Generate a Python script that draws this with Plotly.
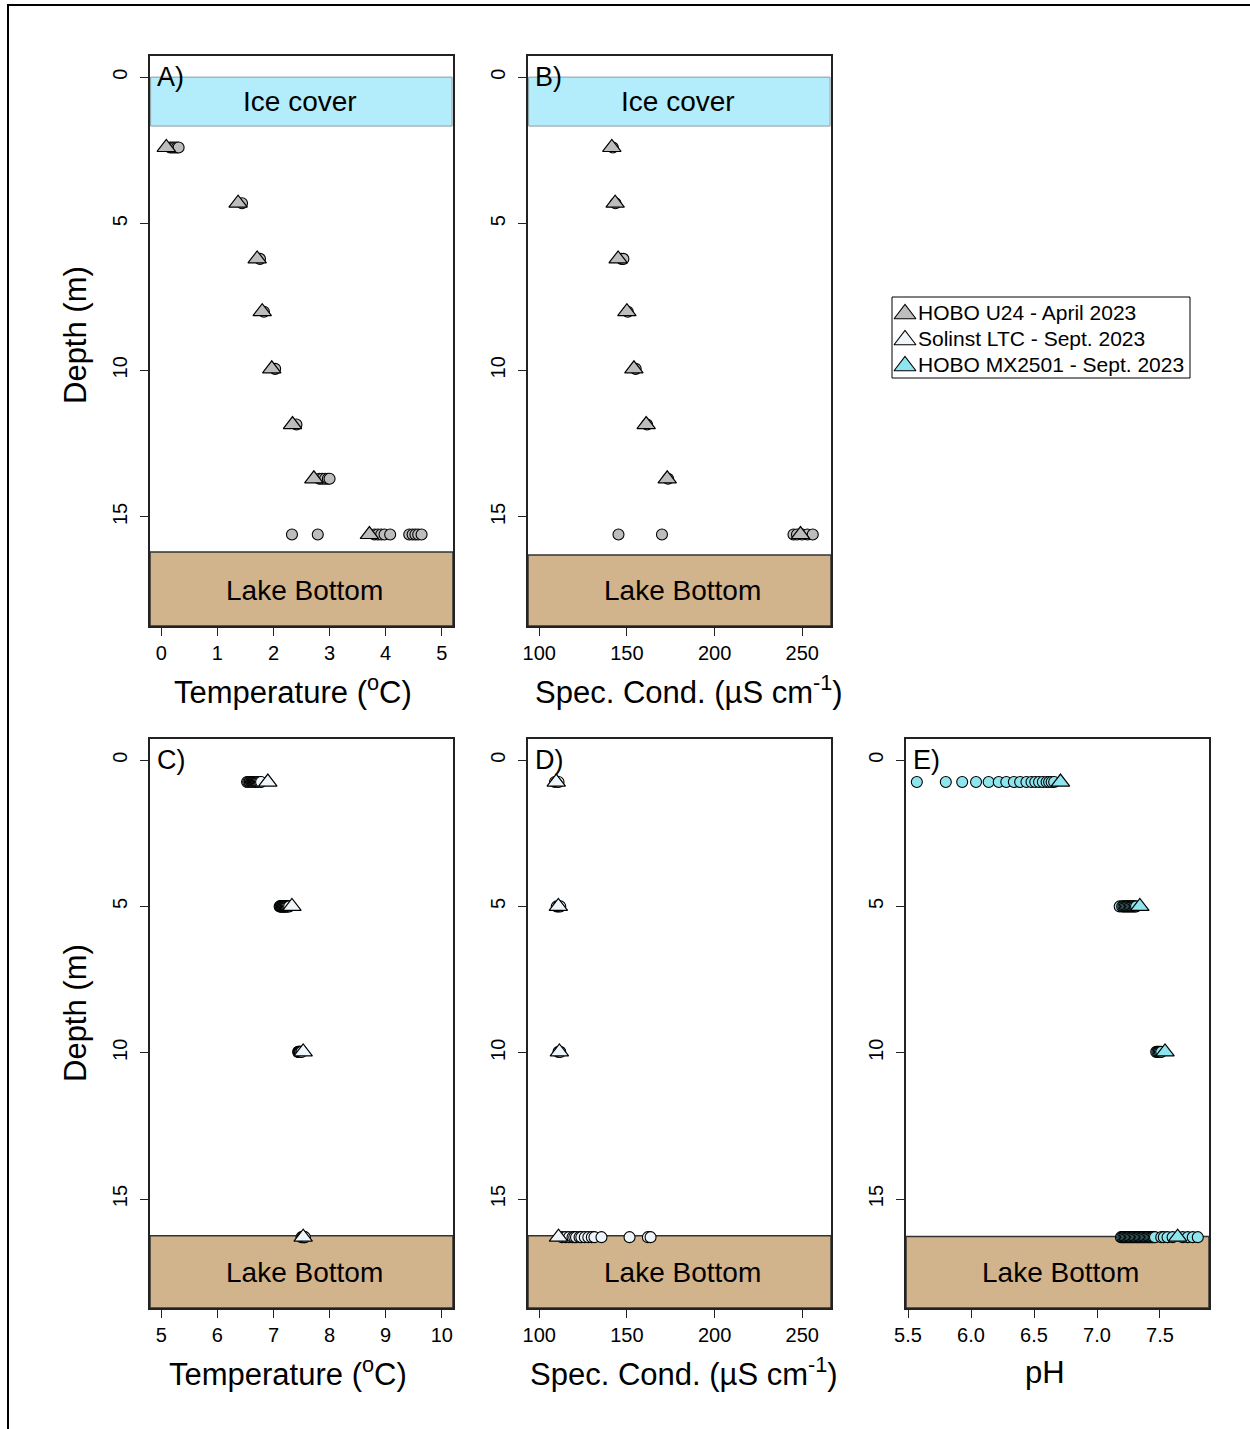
import plotly.graph_objects as go

# ---------------- data ----------------
# April 2023 (HOBO U24), under ice
apr_depths = [2.4, 4.3, 6.2, 8.0, 9.95, 11.85, 13.7, 15.6]
apr_temp_tri = [0.09, 1.37, 1.71, 1.80, 1.97, 2.34, 2.72, 3.71]
apr_temp_logs = [
    [0.16, 0.20, 0.24, 0.28, 0.31],
    [1.44],
    [1.76],
    [1.83],
    [2.03],
    [2.41],
    [2.82, 2.87, 2.92, 2.97, 3.00],
    [2.33, 2.79, 3.80, 3.86, 3.92, 3.98, 4.08, 4.42, 4.48, 4.53, 4.58, 4.64],
]
apr_cond_tri = [141.4, 143.3, 145.0, 150.0, 154.0, 161.0, 173.0, 249.0]
apr_cond_logs = [
    [142.0],
    [143.5],
    [147.0, 148.0],
    [150.5],
    [155.0],
    [161.5],
    [173.5],
    [145.2, 170.0, 245.0, 247.0, 250.0, 253.0, 256.0],
]

# September 2023 (Solinst LTC: temperature, spec. cond.; HOBO MX2501: pH)
sep_depths = [0.75, 5.0, 9.97, 16.3]
sep_temp_tri = [6.90, 7.33, 7.53, 7.53]
sep_temp_logs = [
    [6.53, 6.55, 6.57, 6.58, 6.60, 6.61, 6.62, 6.63, 6.64, 6.65, 6.66, 6.67,
     6.68, 6.69, 6.70, 6.71, 6.72, 6.74, 6.76, 6.78],
    [7.11, 7.12, 7.13, 7.14, 7.15, 7.16, 7.17, 7.18, 7.19, 7.20, 7.21, 7.22,
     7.23, 7.24, 7.26, 7.28],
    [7.44, 7.45, 7.46, 7.47, 7.48, 7.50],
    [7.50, 7.52, 7.54, 7.55, 7.56],
]
sep_cond_tri = [109.7, 110.9, 111.5, 111.0]
sep_cond_logs = [
    [109.0, 110.0, 111.0],
    [110.0, 111.0, 112.0],
    [111.0, 112.0],
    [113.0, 115.0, 117.0, 119.0, 120.0, 121.0, 123.0, 124.0, 126.0, 128.0,
     130.0, 131.5, 135.5, 151.5, 162.0, 163.5],
]
sep_ph_tri = [6.71, 7.34, 7.54, 7.64]
sep_ph_logs = [
    [5.57, 5.80, 5.93, 6.04, 6.14, 6.22, 6.28, 6.34, 6.39, 6.44, 6.48, 6.51,
     6.54, 6.57, 6.60, 6.62, 6.64, 6.66],
    [7.18, 7.20, 7.21, 7.22, 7.23, 7.24, 7.25, 7.26, 7.27, 7.28, 7.29, 7.30, 7.31],
    [7.47, 7.48, 7.49, 7.50, 7.51],
    [7.19, 7.20, 7.21, 7.22, 7.23, 7.24, 7.25, 7.26, 7.27, 7.28, 7.29, 7.30,
     7.31, 7.32, 7.33, 7.34, 7.35, 7.36, 7.37, 7.38, 7.39, 7.40, 7.41, 7.42,
     7.43, 7.44, 7.45, 7.46, 7.51, 7.53, 7.56, 7.60, 7.68, 7.72, 7.76, 7.80],
]

legend_names = ["HOBO U24 - April 2023", "Solinst LTC - Sept. 2023",
                "HOBO MX2501 - Sept. 2023"]
panel_labels = ["A)", "B)", "C)", "D)", "E)"]
temp_ticks_apr = [0, 1, 2, 3, 4, 5]
temp_ticks_sep = [5, 6, 7, 8, 9, 10]
cond_ticks = [100, 150, 200, 250]
ph_ticks = [5.5, 6.0, 6.5, 7.0, 7.5]
ph_ticktext = ["5.5", "6.0", "6.5", "7.0", "7.5"]
depth_ticks = [0, 5, 10, 15]
ice_bottom = 1.67

# ---------------- styling ----------------
W, H = 1250, 1429
FONT = "Liberation Sans, Arial, Helvetica, sans-serif"
GREY = "#BDBDBD"
ALICE = "#EEF6FC"
CYAN = "#8EE5EE"
ICE = "#B3ECFA"
TAN = "#D2B48C"
YRANGE = [18.72, -0.72]
legend_colors = [GREY, ALICE, CYAN]


def fx(p):
    return p / W


def fy(p):
    return 1 - p / H


panels = [
    dict(k="", xpx=(150, 453), ypx=(56, 626), xr=[-0.2, 5.2], tv=temp_ticks_apr,
         depths=apr_depths, tri=apr_temp_tri, logs=apr_temp_logs, col=GREY,
         ice=True, bottom=16.2, title="Temperature (<sup>o</sup>C)", tx=293),
    dict(k="2", xpx=(528, 831), ypx=(56, 626), xr=[93.6, 266.4], tv=cond_ticks,
         depths=apr_depths, tri=apr_cond_tri, logs=apr_cond_logs, col=GREY,
         ice=True, bottom=16.3, title="Spec. Cond. (µS cm<sup>-1</sup>)", tx=689),
    dict(k="3", xpx=(150, 453), ypx=(739, 1308), xr=[4.8, 10.2], tv=temp_ticks_sep,
         depths=sep_depths, tri=sep_temp_tri, logs=sep_temp_logs, col=ALICE,
         ice=False, bottom=16.25, title="Temperature (<sup>o</sup>C)", tx=288),
    dict(k="4", xpx=(528, 831), ypx=(739, 1308), xr=[93.6, 266.4], tv=cond_ticks,
         depths=sep_depths, tri=sep_cond_tri, logs=sep_cond_logs, col=ALICE,
         ice=False, bottom=16.25, title="Spec. Cond. (µS cm<sup>-1</sup>)", tx=684),
    dict(k="5", xpx=(906, 1209), ypx=(739, 1308), xr=[5.484, 7.889], tv=ph_ticks,
         ttext=ph_ticktext, depths=sep_depths, tri=sep_ph_tri, logs=sep_ph_logs,
         col=CYAN, ice=False, bottom=16.28, title="pH", tx=1045),
]

fig = go.Figure()
shapes = []
annotations = []
layout = {}

for i, p in enumerate(panels):
    k = p["k"]
    xa = "x" + k
    ya = "y" + k
    cx = [v for vals in p["logs"] for v in vals]
    cy = [d for d, vals in zip(p["depths"], p["logs"]) for _ in vals]
    fig.add_trace(go.Scatter(
        x=cx, y=cy, mode="markers", xaxis=xa, yaxis=ya, showlegend=False,
        marker=dict(symbol="circle", size=11, color=p["col"],
                    line=dict(color="black", width=1.1)),
        hoverinfo="x+y"))
    fig.add_trace(go.Scatter(
        x=p["tri"], y=p["depths"], mode="markers", xaxis=xa, yaxis=ya,
        showlegend=False,
        marker=dict(symbol="triangle-up", size=16, color=p["col"],
                    line=dict(color="black", width=1.2)),
        hoverinfo="x+y"))

    x0, x1 = p["xpx"]
    y0, y1 = p["ypx"]
    axcommon = dict(showline=True, mirror=True, linecolor="#222", linewidth=1.5,
                    ticks="outside", ticklen=8, tickwidth=1.2, tickcolor="#222",
                    showgrid=False, zeroline=False, automargin=False,
                    tickfont=dict(family=FONT, size=20, color="black"))
    xdict = dict(axcommon, domain=[fx(x0), fx(x1)], range=p["xr"],
                 tickvals=p["tv"], anchor=ya)
    if "ttext" in p:
        xdict["ticktext"] = p["ttext"]
    ydict = dict(axcommon, domain=[fy(y1), fy(y0)], range=YRANGE,
                 tickvals=depth_ticks, tickangle=-90, anchor=xa,
                 ticklabelstandoff=5)
    layout["xaxis" + k] = xdict
    layout["yaxis" + k] = ydict

    xref_dom = xa + " domain"
    if p["ice"]:
        shapes.append(dict(type="rect", xref=xref_dom, yref=ya, x0=0.002, x1=0.997,
                           y0=0, y1=ice_bottom, fillcolor=ICE,
                           line=dict(color="#8a9ea4", width=1), layer="below"))
        annotations.append(dict(xref=xref_dom, yref=ya, x=0.495, y=ice_bottom / 2,
                                text="Ice cover", showarrow=False,
                                font=dict(family=FONT, size=28, color="black")))
    shapes.append(dict(type="rect", xref=xref_dom, yref=ya, x0=0, x1=1,
                       y0=p["bottom"], y1=YRANGE[0], fillcolor=TAN,
                       line=dict(color="#333", width=1.5), layer="below"))
    annotations.append(dict(xref=xref_dom, yref=ya, x=0.51, y=17.5,
                            text="Lake Bottom", showarrow=False,
                            font=dict(family=FONT, size=28, color="black")))
    annotations.append(dict(xref=xref_dom, yref=ya, x=0.015, y=0.0, xanchor="left",
                            yanchor="middle", text=panel_labels[i], showarrow=False,
                            font=dict(family=FONT, size=27, color="black")))
    annotations.append(dict(xref="paper", yref="paper", x=fx(p["tx"]),
                            y=fy(y1 + 64), xanchor="center", yanchor="middle",
                            text=p["title"], showarrow=False,
                            font=dict(family=FONT, size=31, color="black")))

# y-axis titles
for yc in (335, 1013):
    annotations.append(dict(xref="paper", yref="paper", x=fx(75), y=fy(yc),
                            xanchor="center", yanchor="middle", textangle=-90,
                            text="Depth (m)", showarrow=False,
                            font=dict(family=FONT, size=31, color="black")))

# ---------------- legend (drawn on a hidden helper axis) ----------------
leg_x0, leg_x1, leg_y0, leg_y1 = 892, 1190, 297, 378
layout["xaxis6"] = dict(domain=[fx(leg_x0), fx(leg_x1)], range=[0, leg_x1 - leg_x0],
                        visible=False, fixedrange=True, anchor="y6")
layout["yaxis6"] = dict(domain=[fy(leg_y1), fy(leg_y0)], range=[leg_y1 - leg_y0, 0],
                        visible=False, fixedrange=True, anchor="x6")
leg_rows = [16, 42, 68]
fig.add_trace(go.Scatter(
    x=[13, 13, 13], y=[r + 1 for r in leg_rows], mode="markers",
    xaxis="x6", yaxis="y6", showlegend=False, hoverinfo="skip",
    marker=dict(symbol="triangle-up", size=19, color=legend_colors,
                line=dict(color="black", width=1.1))))
for r, name in zip(leg_rows, legend_names):
    annotations.append(dict(xref="x6", yref="y6", x=24, y=r, xanchor="left",
                            yanchor="middle", text=name, showarrow=False,
                            font=dict(family=FONT, size=21, color="black")))
shapes.append(dict(type="rect", xref="paper", yref="paper", x0=fx(leg_x0),
                   x1=fx(leg_x1), y0=fy(leg_y1), y1=fy(leg_y0),
                   line=dict(color="black", width=1), fillcolor="rgba(0,0,0,0)"))

# outer frame
shapes.append(dict(type="rect", xref="paper", yref="paper", x0=fx(8), x1=1.02,
                   y0=-0.02, y1=fy(5), line=dict(color="black", width=2),
                   fillcolor="rgba(0,0,0,0)", layer="above"))

fig.update_layout(
    width=W, height=H, margin=dict(l=0, r=0, t=0, b=0, autoexpand=False),
    paper_bgcolor="white", plot_bgcolor="white",
    font=dict(family=FONT, color="black"),
    shapes=shapes, annotations=annotations, showlegend=False,
    **layout,
)

fig.write_html("out.html")
